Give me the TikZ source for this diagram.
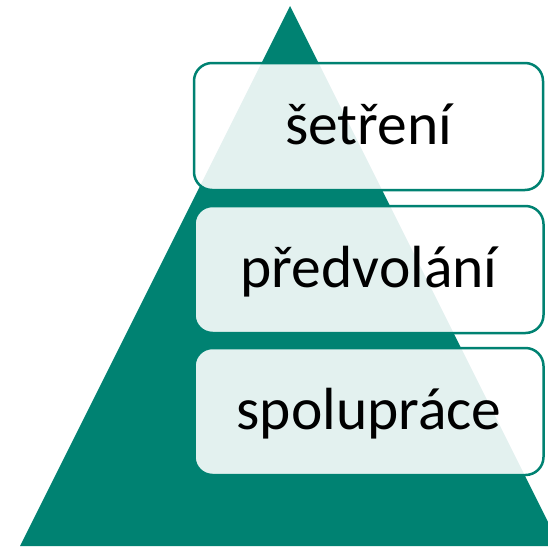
\documentclass[tikz,border=0pt]{standalone}
\usepackage{fontspec}
\setmainfont{Carlito}
\definecolor{teal}{RGB}{0,130,114}
\tikzset{
  stage/.style={draw=teal, line width=2.5pt, fill=white, fill opacity=0.89, text opacity=1,
    rounded corners=18pt, minimum width=349pt, minimum height=127pt, inner sep=0pt,
    text height=40pt, text depth=5pt, font=\fontsize{59.5}{60}\selectfont, text=black}
}
\begin{document}
\begin{tikzpicture}[x=1pt,y=-1pt]
\useasboundingbox (0,0) rectangle (548,546);
\clip (0,0) rectangle (548,546);
\fill[teal] (290,6) -- (560,546) -- (20,546) -- cycle;
\node[stage] (b1) at (368.5,126.5) {šetření};
\node[stage] (b2) at (369,269.5) {předvolání};
\node[stage] (b3) at (369,411.5) {spolupráce};
\end{tikzpicture}
\end{document}
